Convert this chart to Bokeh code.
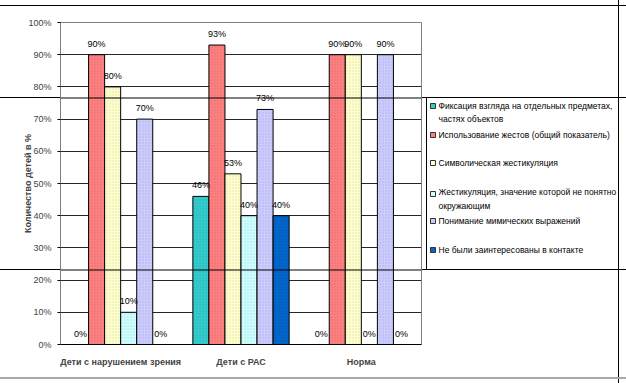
from bokeh.plotting import figure
from bokeh.layouts import row
from bokeh.models import FactorRange, FixedTicker, Span, ColumnDataSource, Range1d
from bokeh.transform import dodge
from bokeh.core.properties import value
from bokeh.embed import file_html
from bokeh.resources import INLINE

# ---- data ----
categories = ["Дети с нарушением зрения", "Дети с РАС", "Норма"]
series_labels = [
    "Фиксация взгляда  на отдельных предметах,\nчастях  объектов",
    "Использование жестов (общий показатель)",
    "Символическая жестикуляция",
    "Жестикуляция,  значение которой не понятно\nокружающим",
    "Понимание мимических выражений",
    "Не были заинтересованы в контакте",
]
fixation = [0, 46, 0]
gestures = [90, 93, 90]
symbolic = [80, 53, 90]
unclear = [10, 40, 0]
mimic = [70, 73, 90]
no_contact = [0, 40, 0]
series_values = [fixation, gestures, symbolic, unclear, mimic, no_contact]
y_ticks = [0, 10, 20, 30, 40, 50, 60, 70, 80, 90, 100]
y_axis_title = "Количество детей в %"

# ---- style ----
colors = ["#33CCCC", "#FF8080", "#FFFFCC", "#CCFFFF", "#CCCCFF", "#0066CC"]
FONT_NAME = "Liberation Sans"
FONT = value(FONT_NAME)
TOTAL_W, H = 626, 383
CW = 426                      # chart figure width
LW = TOTAL_W - CW             # legend panel width
FL, FR, FT, FB = 60, 421, 22, 344  # frame edges in page pixels
GRAY = "#A8A8A8"


def css_lines(lines):
    return {
        "background-image": ", ".join(f"linear-gradient({c}, {c})" for *_, c in lines),
        "background-size": ", ".join(f"{w}px {h}px" for _, _, w, h, _ in lines),
        "background-position": ", ".join(f"{x}px {y}px" for x, y, _, _, _ in lines),
        "background-repeat": "no-repeat",
    }


chart_lines = [(0, 5, CW, 1, "#000"), (0, 97, CW, 1, "#000"), (0, 269, CW, 1, "#000"),
               (0, 377, CW, 2, GRAY)]
legend_lines = [(0, 5, LW, 1, "#000"), (0, 97, LW, 1, "#000"), (0, 269, LW, 1, "#000"),
                (0, 377, LW, 2, GRAY), (0, 97, 1, 173, "#000"), (192, 0, 1, H, "#000")]

p = figure(x_range=FactorRange(*categories), y_range=(0, 100),
           width=CW, height=H, output_backend="svg", toolbar_location=None,
           min_border_left=FL, min_border_right=CW - FR,
           min_border_top=FT, min_border_bottom=H - FB,
           styles=css_lines(chart_lines))
p.outline_line_color = "#808080"
p.background_fill_color = "white"
p.border_fill_color = None

p.xgrid.grid_line_color = None
p.ygrid.ticker = FixedTicker(ticks=y_ticks)
p.ygrid.grid_line_color = "#262626"
p.ygrid.grid_line_width = 1

p.yaxis.ticker = FixedTicker(ticks=y_ticks)
p.yaxis.major_label_overrides = {t: f"{t}%" for t in y_ticks}
p.yaxis.minor_tick_line_color = None
p.yaxis.major_tick_out = 3
p.yaxis.major_tick_in = 0
p.yaxis.major_label_standoff = 6
p.yaxis.axis_line_color = "#808080"
p.yaxis.major_label_text_font = FONT_NAME
p.yaxis.major_label_text_font_size = "9px"
p.yaxis.axis_label = y_axis_title
p.yaxis.axis_label_text_font = FONT_NAME
p.yaxis.axis_label_text_font_size = "9px"
p.yaxis.axis_label_text_font_style = "bold"
p.yaxis.axis_label_standoff = -8

p.xaxis.major_tick_line_color = None
p.xaxis.minor_tick_line_color = None
p.xaxis.axis_line_color = "black"
p.xaxis.major_label_standoff = 6
p.xaxis.major_label_text_font = FONT_NAME
p.xaxis.major_label_text_font_size = "9px"
p.xaxis.major_label_text_font_style = "bold"

bar_w = 0.8 / 6
offsets = [(-0.4 + bar_w / 2 + i * bar_w) for i in range(6)]

for i, vals in enumerate(series_values):
    src = ColumnDataSource(dict(cat=categories, val=vals))
    p.vbar(x=dodge("cat", offsets[i], range=p.x_range), top="val", width=bar_w,
           source=src, fill_color=colors[i], line_color="black", line_width=1,
           hatch_pattern="dot", hatch_color="black", hatch_alpha=0.12, hatch_scale=3)

for i, vals in enumerate(series_values):
    src = ColumnDataSource(dict(cat=categories, val=vals, lab=[f"{v}%" for v in vals]))
    p.text(x=dodge("cat", offsets[i], range=p.x_range), y="val", text="lab", source=src,
           text_align="center", text_baseline="bottom", y_offset=-6,
           text_font=FONT, text_font_size="9px", text_color="black")


def dy(py):
    return (FB - py) / (FB - FT) * 100


# decoration lines crossing the plot area (drawn over the bars)
for py in (97.5, 269.5):
    p.add_layout(Span(location=dy(py), dimension="width", line_color="black",
                      line_width=1, level="overlay"))

# ---- legend panel (page-pixel coordinates inside its frame) ----
lg = figure(width=LW, height=H, output_backend="svg", toolbar_location=None,
            title=None, x_axis_location=None, y_axis_location=None,
            x_range=Range1d(CW, TOTAL_W), y_range=Range1d(FB, FT),
            min_border_left=0, min_border_right=0,
            min_border_top=FT, min_border_bottom=H - FB,
            styles=css_lines(legend_lines))
lg.grid.visible = False
lg.outline_line_color = None
lg.background_fill_color = None
lg.border_fill_color = None

marker_y = [105, 134, 162, 193, 220, 249]
line_y = [[105, 118], [134], [162], [191, 205], [220], [249]]
lg.rect(x=[432.5] * 6, y=[m + 0.5 for m in marker_y], width=5, height=5,
        fill_color=colors, line_color="#333333", line_width=1)
tx, ty, tt = [], [], []
for i, lab in enumerate(series_labels):
    for txt, ly in zip(lab.split("\n"), line_y[i]):
        tx.append(438)
        ty.append(ly)
        tt.append(txt)
lg.text(x=tx, y=ty, text=tt, text_font=FONT, text_font_size="8.5px",
        text_baseline="middle", text_align="left", text_color="black")

layout = row(p, lg, spacing=0)
open("out.html", "w").write(file_html(layout, INLINE))
